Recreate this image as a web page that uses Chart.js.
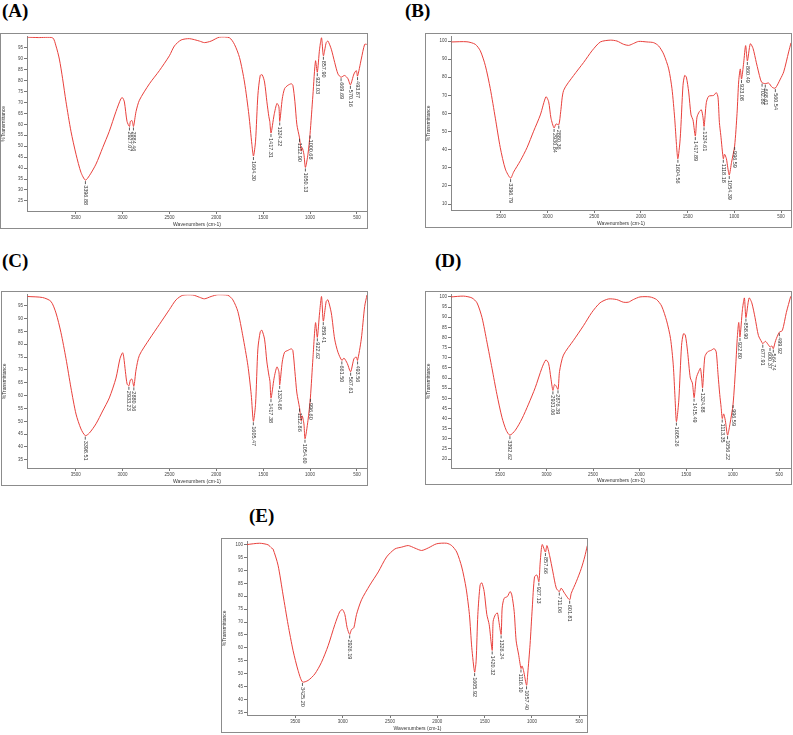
<!DOCTYPE html>
<html>
<head>
<meta charset="utf-8">
<script src="https://cdn.jsdelivr.net/npm/chart.js@4.4.1/dist/chart.umd.min.js"></script>
<style>
    body { margin: 0; background: #fff; width: 793px; height: 735px; position: relative; overflow: hidden; }
    .tag { position: absolute; font-family: 'Liberation Serif', 'Times New Roman', serif; font-weight: bold; font-size: 19px; line-height: 1; color: #000; }
    .box { position: absolute; border: 1px solid #8c8c8c; box-sizing: border-box; pointer-events: none; }
    canvas { position: absolute; }
</style>
</head>
<body>
<div class="tag" style="left:2px;top:1px">(A)</div>
<div class="tag" style="left:405px;top:1px">(B)</div>
<div class="tag" style="left:2px;top:251px">(C)</div>
<div class="tag" style="left:435px;top:251px">(D)</div>
<div class="tag" style="left:249px;top:506px">(E)</div>

<script>
// 共通の目盛り
const xTicks = [3500, 3000, 2500, 2000, 1500, 1000, 500];

// (A)
const aWn = [4014, 3900, 3747, 3711, 3675, 3640, 3604, 3551, 3497, 3444, 3397, 3355, 3284, 3213, 3142, 3071, 3017, 3000, 2981, 2953, 2927, 2917, 2900, 2884, 2857, 2821, 2714, 2608, 2501, 2447, 2376, 2287, 2180, 2127, 2056, 1967, 1860, 1807, 1753, 1700, 1653, 1621, 1604, 1582, 1557, 1532, 1511, 1486, 1461, 1440, 1430, 1417, 1384, 1354, 1333, 1324, 1297, 1272, 1237, 1201, 1184, 1162, 1141, 1113, 1095, 1084, 1066, 1050, 1023, 1001, 970, 942, 923, 899, 878, 858, 828, 810, 774, 738, 703, 670, 632, 596, 570, 532, 507, 494, 454, 418, 395];
const aT = [99.8, 99.6, 99.5, 95.8, 89.8, 80.8, 70.3, 56.8, 46.3, 38, 34.5, 36.5, 41.8, 49.3, 56.8, 65.8, 71.8, 72.1, 70.2, 61.3, 59, 61.3, 61.7, 59, 65.8, 71, 78.5, 84.5, 91.3, 95.8, 98.5, 99.1, 98, 97.3, 98, 99.8, 99.5, 96.5, 90.5, 79.3, 64.3, 50.8, 45.5, 52.3, 73.3, 82.3, 82.6, 79.3, 70.3, 63.5, 61.3, 56, 64.3, 69.5, 68, 61.3, 71.6, 76.3, 77.8, 78.5, 77.8, 70.3, 59.8, 53.8, 47.8, 49.3, 46.3, 40.3, 46.3, 55.3, 73.3, 89, 83.8, 94.3, 99.5, 91.3, 97.3, 98, 94.3, 88.3, 83, 81.5, 82.3, 80.8, 78, 83, 84.5, 82, 89.8, 96.5, 96.5];
const aYTicks = [95, 90, 85, 80, 75, 70, 65, 60, 55, 50, 45, 40, 35, 30, 25];
const aPeaks = ['3396.88', '2927.07', '2884.46', '1604.30', '1417.31', '1324.22', '1112.90', '1050.13', '1000.68', '923.03', '857.90', '669.69', '570.16', '493.87'];
const aPeakT = [34.5, 59, 59, 45.5, 56, 61.3, 53.8, 40.3, 55.3, 83.8, 91.3, 81.5, 78, 82];

// (B)
const bWn = [4030, 3864, 3775, 3721, 3667, 3614, 3560, 3507, 3453, 3397, 3364, 3292, 3221, 3150, 3078, 3018, 2989, 2964, 2931, 2910, 2880, 2860, 2828, 2721, 2614, 2525, 2435, 2328, 2257, 2186, 2132, 2078, 2025, 1936, 1864, 1811, 1757, 1703, 1668, 1639, 1620, 1605, 1580, 1550, 1532, 1514, 1489, 1464, 1443, 1418, 1400, 1375, 1353, 1336, 1324, 1300, 1275, 1221, 1193, 1175, 1160, 1145, 1118, 1105, 1085, 1070, 1054, 1030, 997, 971, 953, 936, 923, 900, 879, 860, 829, 800, 764, 721, 703, 668, 632, 596, 561, 507, 471, 418, 393];
const bT = [99.5, 99.6, 98.2, 94.6, 86.4, 73.7, 57.4, 41.1, 29.3, 24.3, 27.7, 33.9, 41.1, 50.2, 59.2, 69.2, 66.5, 57.4, 52, 54.2, 53.8, 61, 72.8, 81, 88.2, 94.6, 99.5, 100.5, 100, 98.2, 97.6, 98.7, 99.8, 99.5, 99.1, 97.3, 92.8, 84.6, 73.7, 57.4, 43, 35, 46, 75.5, 81, 80.1, 71.9, 59.2, 56.5, 47.5, 58, 61, 62, 58, 52.9, 66, 69.5, 70, 71.5, 69, 55, 48, 35, 37.5, 35, 30, 26, 33, 42, 60, 78, 84.6, 79, 88, 97.5, 89, 98.5, 96, 88, 79, 77, 76.5, 76.8, 74.5, 74, 79, 83, 94, 99];
const bYTicks = [100, 90, 80, 70, 60, 50, 40, 30, 20, 10];
const bPeaks = ['3396.79', '2930.84', '2880.36', '1604.56', '1417.89', '1324.61', '1118.18', '1054.39', '996.59', '923.08', '860.49', '702.88', '668.61', '560.54'];
const bPeakT = [24.3, 52, 53.8, 35, 47.5, 52.9, 35, 26, 42, 79, 89, 77, 76.5, 74];

// (C)
const cWn = [4014, 3854, 3765, 3711, 3658, 3604, 3551, 3497, 3444, 3398, 3355, 3284, 3213, 3142, 3071, 3028, 3000, 2988, 2970, 2952, 2933, 2917, 2900, 2880, 2857, 2821, 2714, 2608, 2501, 2430, 2358, 2252, 2180, 2127, 2056, 1984, 1878, 1824, 1771, 1718, 1664, 1628, 1605, 1582, 1557, 1532, 1515, 1486, 1461, 1440, 1428, 1417, 1384, 1354, 1333, 1324, 1297, 1272, 1237, 1201, 1184, 1162, 1141, 1113, 1095, 1084, 1066, 1054, 1023, 997, 970, 942, 923, 899, 878, 859, 828, 810, 774, 738, 703, 661, 639, 603, 568, 532, 507, 494, 454, 418, 393];
const cT = [98.6, 98.2, 96.7, 92.2, 84.6, 74.4, 63, 52.8, 47, 44.4, 45.4, 49, 54, 59.1, 66.8, 74.4, 76.7, 75, 69.3, 64.5, 63.8, 66.1, 66.4, 63.6, 70, 75.7, 82, 87.7, 93.5, 97.3, 99.1, 99.2, 98.3, 97.7, 98.6, 99.3, 99.1, 97.3, 92.8, 83.3, 71.8, 60.4, 50, 56.6, 78.2, 84.8, 85.5, 82, 73.1, 68, 65.5, 59, 66.8, 71.2, 69.3, 64.2, 73.1, 76.9, 77.6, 78.2, 77.6, 69.3, 61, 55.3, 50.2, 52.1, 49, 43.2, 50.2, 59.1, 74.4, 88.4, 82.7, 92.2, 98.6, 89, 96.7, 97.3, 92.2, 82, 76.9, 73.7, 74.6, 72.5, 69.3, 74.4, 75, 73.7, 82, 94.7, 99.2];
const cYTicks = [95, 90, 85, 80, 75, 70, 65, 60, 55, 50, 45, 40, 35];
const cPeaks = ['3398.51', '2933.23', '2880.36', '1605.47', '1417.38', '1324.68', '1112.86', '1054.60', '996.60', '922.62', '859.41', '661.50', '567.61', '493.56'];
const cPeakT = [44.4, 63.8, 63.6, 50, 59, 64.2, 55.3, 43.2, 59.1, 82.7, 89, 73.7, 69.3, 73.7];

// (D)
const dWn = [4025, 3889, 3800, 3746, 3692, 3639, 3585, 3532, 3478, 3432, 3393, 3335, 3264, 3193, 3121, 3050, 3007, 2978, 2953, 2931, 2914, 2900, 2876, 2860, 2818, 2711, 2603, 2514, 2425, 2336, 2246, 2175, 2121, 2068, 1996, 1889, 1818, 1764, 1710, 1668, 1639, 1620, 1605, 1580, 1550, 1530, 1510, 1485, 1456, 1434, 1415, 1392, 1366, 1348, 1336, 1324, 1300, 1270, 1230, 1200, 1178, 1158, 1140, 1125, 1113, 1098, 1080, 1056, 1030, 997, 968, 950, 936, 923, 896, 875, 859, 825, 796, 761, 725, 689, 678, 650, 620, 600, 580, 565, 540, 500, 468, 425, 378];
const dT = [100, 100.4, 99.5, 97.1, 89.8, 77.7, 64.8, 51.9, 40.6, 34.2, 31.8, 34.2, 39.8, 47.1, 55.2, 64.8, 68.9, 67.3, 60, 53.9, 56.8, 56.3, 54.4, 63.2, 71.3, 78.5, 85.8, 92.3, 97.1, 99, 98.7, 97.4, 97.4, 98.7, 100, 100, 98.7, 95.5, 88.2, 79.4, 66.5, 50.3, 38.5, 48.7, 76.1, 81.8, 81.3, 72.9, 60, 57.6, 50.3, 60, 63.2, 64.8, 61, 55.2, 70.5, 72.9, 73.7, 74.5, 72.9, 61.6, 51.9, 45.5, 40, 42.3, 39, 31.8, 37.4, 47.1, 66.5, 81, 87.4, 80.2, 93.9, 99.5, 89.8, 99.5, 97.1, 89.8, 81, 77.7, 76.9, 78.1, 76.5, 75.3, 75.8, 74.5, 78.5, 82.6, 83.4, 92.3, 100.3];
const dYTicks = [100, 95, 90, 85, 80, 75, 70, 65, 60, 55, 50, 45, 40, 35, 30, 25, 20];
const dPeaks = ['3392.62', '2931.06', '2876.39', '1605.26', '1415.49', '1324.88', '1113.35', '1056.22', '996.59', '922.80', '858.90', '677.91', '600.37', '564.74', '499.92'];
const dPeakT = [31.8, 53.9, 54.4, 38.5, 50.3, 55.2, 40, 31.8, 47.1, 80.2, 89.8, 76.9, 75.3, 74.5, 82.6];

// (E)
const eWn = [4011, 3877, 3789, 3750, 3736, 3683, 3630, 3577, 3524, 3471, 3425, 3365, 3294, 3224, 3154, 3083, 3030, 3002, 2977, 2953, 2926, 2907, 2882, 2854, 2801, 2713, 2624, 2536, 2448, 2377, 2307, 2236, 2166, 2095, 2007, 1901, 1848, 1795, 1742, 1696, 1661, 1636, 1606, 1590, 1572, 1548, 1530, 1505, 1477, 1452, 1420, 1410, 1386, 1365, 1350, 1326, 1315, 1294, 1259, 1231, 1213, 1188, 1167, 1142, 1116, 1105, 1089, 1057, 1045, 1020, 997, 973, 948, 927, 913, 892, 858, 842, 814, 779, 743, 711, 691, 655, 602, 585, 532, 479, 443, 415];
const eT = [100, 100.5, 99.9, 98.6, 98.3, 92, 80.5, 69, 58.9, 51.2, 46.8, 47.4, 49.9, 54.4, 60.8, 69, 74.1, 74.8, 72.9, 67.8, 65.2, 67.1, 67.8, 72.9, 78.6, 84.3, 89.4, 95.2, 98.3, 99, 99.6, 98.6, 97.7, 98.7, 100.3, 100.5, 99.6, 97.1, 91.3, 83.1, 72.9, 60.1, 50.6, 55, 72.9, 84.3, 85.2, 81.8, 72.9, 69, 59, 70.3, 72.9, 73.5, 70.3, 65.2, 75.4, 79.2, 79.9, 81.8, 80.5, 74.1, 62.7, 57.6, 52, 53, 51.2, 45.5, 49.9, 61.4, 75.4, 87.5, 88.2, 85.6, 93.2, 100, 97.1, 99.6, 95.8, 89.4, 83.1, 81.8, 83.1, 81.1, 78.6, 81.1, 85.6, 90.7, 95.2, 99.6];
const eYTicks = [100, 95, 90, 85, 80, 75, 70, 65, 60, 55, 50, 45, 40, 35];
const ePeaks = ['3425.20', '2926.19', '1605.92', '1420.32', '1326.24', '1116.10', '1057.40', '927.13', '857.66', '711.06', '601.81'];
const ePeakT = [46.8, 65.2, 50.6, 59, 65.2, 52, 45.5, 85.6, 97.1, 81.8, 78.6];

// ピークラベル（縦書きの数値と引き出し線）
const peakLabels = {
    id: 'peakLabels',
    afterDatasetsDraw(chart, args, opts) {
        const { ctx, scales: { x, y } } = chart;
        ctx.save();
        ctx.strokeStyle = '#333';
        ctx.fillStyle = '#333';
        ctx.lineWidth = 0.8;
        ctx.font = "5.5px 'Liberation Sans', Arial, sans-serif";
        ctx.textAlign = 'left';
        ctx.textBaseline = 'middle';
        opts.labels.forEach((txt, i) => {
            const px = x.getPixelForValue(parseFloat(txt));
            const py = y.getPixelForValue(opts.values[i]);
            ctx.beginPath();
            ctx.moveTo(px, py + 1);
            ctx.lineTo(px, py + 4);
            ctx.stroke();
            ctx.save();
            ctx.translate(px, py + 5);
            ctx.rotate(Math.PI / 2);
            ctx.fillText(txt, 0, 0);
            ctx.restore();
        });
        ctx.restore();
    },
};

function makePanel(box, plot, xMin, xMax, yMin, yMax, yTicks, wn, t, peaks, peakT) {
    const canvas = document.createElement('canvas');
    canvas.width = box.w;
    canvas.height = box.h;
    canvas.style.left = box.x + 'px';
    canvas.style.top = box.y + 'px';
    document.body.appendChild(canvas);

    const frame = document.createElement('div');
    frame.className = 'box';
    Object.assign(frame.style, { left: box.x + 'px', top: box.y + 'px', width: box.w + 'px', height: box.h + 'px' });
    document.body.appendChild(frame);

    const yW = plot.l - box.x;
    const xH = box.y + box.h - plot.b;
    const tickFont = { size: 4.5, family: "'Liberation Sans', Arial, sans-serif" };
    const titleFont = { size: 5, family: "'Liberation Sans', Arial, sans-serif" };

    return new Chart(canvas.getContext('2d'), {
        type: 'line',
        data: {
            datasets: [{
                data: wn.map((v, i) => ({ x: v, y: t[i] })),
                borderColor: '#e8403c',
                borderWidth: 1,
                pointRadius: 0,
                tension: 0.25,
                fill: false,
            }],
        },
        options: {
            responsive: false,
            animation: false,
            layout: { padding: { top: plot.t - box.y, right: box.x + box.w - plot.r, left: 0, bottom: 0 } },
            plugins: {
                legend: { display: false },
                tooltip: { enabled: false },
                peakLabels: { labels: peaks, values: peakT },
            },
            scales: {
                x: {
                    type: 'linear',
                    reverse: true,
                    min: xMin,
                    max: xMax,
                    afterBuildTicks: (s) => { s.ticks = xTicks.map((v) => ({ value: v })); },
                    afterFit: (s) => { s.height = xH; },
                    ticks: { font: tickFont, color: '#444', padding: 1, maxRotation: 0, autoSkip: false, callback: (v) => String(v) },
                    grid: { drawOnChartArea: false, tickLength: 3, color: '#777' },
                    border: { color: '#888' },
                    title: { display: true, text: 'Wavenumbers (cm-1)', font: titleFont, color: '#333', padding: { top: 0, bottom: 1 } },
                },
                y: {
                    min: yMin,
                    max: yMax,
                    afterBuildTicks: (s) => { s.ticks = yTicks.map((v) => ({ value: v })); },
                    afterFit: (s) => { s.width = yW; },
                    ticks: { font: tickFont, color: '#444', padding: 1, autoSkip: false, callback: (v) => String(v) },
                    grid: { drawOnChartArea: false, tickLength: 3, color: '#777' },
                    border: { color: '#888' },
                    title: { display: true, text: '%Transmittance', font: titleFont, color: '#333', padding: { top: 1, bottom: 0 } },
                },
            },
        },
        plugins: [peakLabels],
    });
}

makePanel({ x: 0, y: 33, w: 368, h: 196 }, { l: 27, t: 34, r: 367, b: 211 }, 393, 4020, 20.4, 100, aYTicks, aWn, aT, aPeaks, aPeakT);
makePanel({ x: 425, y: 33, w: 367, h: 195 }, { l: 451, t: 34, r: 791, b: 210 }, 393, 4035, 6.7, 102.4, bYTicks, bWn, bT, bPeaks, bPeakT);
makePanel({ x: 1, y: 291, w: 367, h: 195 }, { l: 27, t: 292, r: 367, b: 468 }, 393, 4020, 31.8, 99.3, cYTicks, cWn, cT, cPeaks, cPeakT);
makePanel({ x: 425, y: 291, w: 367, h: 194 }, { l: 451, t: 292, r: 791, b: 468 }, 375, 4025, 15.6, 101.1, dYTicks, dWn, dT, dPeaks, dPeakT);
makePanel({ x: 221, y: 538, w: 367, h: 195 }, { l: 247, t: 539, r: 588, b: 715 }, 408, 4011, 34, 101.1, eYTicks, eWn, eT, ePeaks, ePeakT);
</script>
</body>
</html>
